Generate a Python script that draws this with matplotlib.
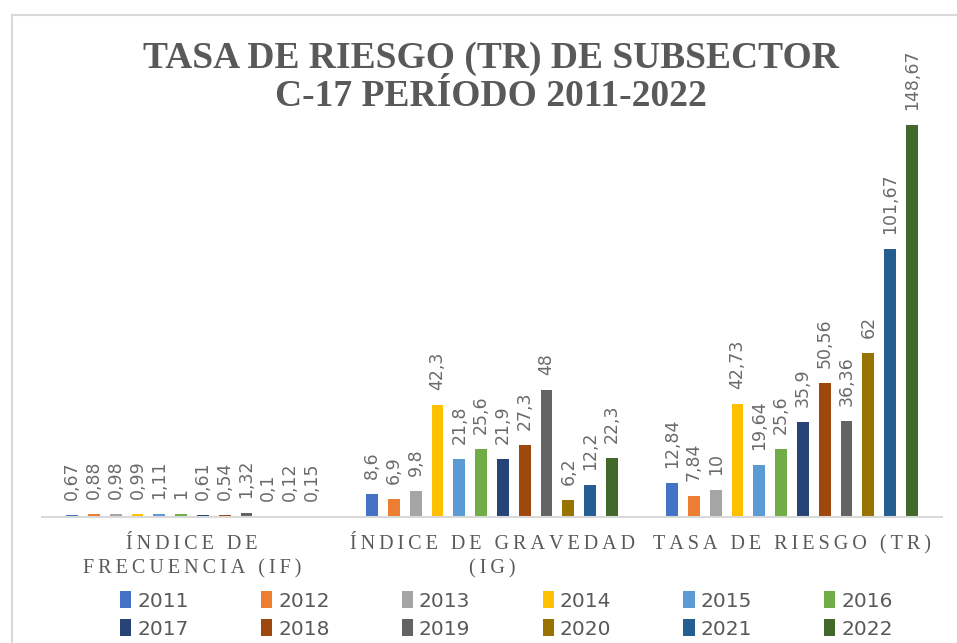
import matplotlib
matplotlib.use("Agg")
import matplotlib.pyplot as plt
from matplotlib import font_manager
from matplotlib.patches import Rectangle
import numpy as np

categories = ["ÍNDICE DE\nFRECUENCIA (IF)", "ÍNDICE DE GRAVEDAD\n(IG)", "TASA DE RIESGO (TR)"]
years = ["2011", "2012", "2013", "2014", "2015", "2016",
         "2017", "2018", "2019", "2020", "2021", "2022"]
if_values = [0.67, 0.88, 0.98, 0.99, 1.11, 1, 0.61, 0.54, 1.32, 0.1, 0.12, 0.15]
ig_values = [8.6, 6.9, 9.8, 42.3, 21.8, 25.6, 21.9, 27.3, 48, 6.2, 12.2, 22.3]
tr_values = [12.84, 7.84, 10, 42.73, 19.64, 25.6, 35.9, 50.56, 36.36, 62, 101.67, 148.67]
colors = ["#4472C4", "#ED7D31", "#A5A5A5", "#FFC000", "#5B9BD5", "#70AD47",
          "#264478", "#9E480E", "#636363", "#997300", "#255E91", "#43682B"]
title_lines = ["TASA DE RIESGO (TR) DE SUBSECTOR", "C-17 PERÍODO 2011-2022"]

TXT = "#595959"
names = {f.name for f in font_manager.fontManager.ttflist}
if "Liberation Sans Narrow" in names:
    leg_font = dict(family="Liberation Sans Narrow", size=19)
else:
    leg_font = dict(family="DejaVu Sans", size=14.5)


def spaced(s):
    return "\n".join("\u2009".join(list(line)) for line in s.split("\n"))


W, H = 957, 643
fig = plt.figure(figsize=(W / 100, H / 100), dpi=100)
fig.patch.set_facecolor("white")

# chart border (cropped chart area)
fig.add_artist(Rectangle((12 / W, -0.1), 1.2, 1 - 15 / H + 0.1,
                         transform=fig.transFigure, fill=False,
                         edgecolor="#d9d9d9", lw=1.5))

ax = fig.add_axes([42 / W, 1 - 516.7 / H, 900 / W, 421.6 / H])
series = np.array([if_values, ig_values, tr_values]).T  # shape (12, 3)
x = np.arange(len(categories))
slot = 0.0727
bw = 0.039
n = len(years)
containers = []
for i in range(n):
    off = (i - (n - 1) / 2) * slot
    bc = ax.bar(x + off, series[i], width=bw, color=colors[i], label=years[i],
                zorder=2)
    containers.append(bc)
    for xi, v in zip(x + off, series[i]):
        lab = ("%g" % v).replace(".", ",")
        ax.annotate(lab, (xi, v), xytext=(0, 15), textcoords="offset pixels",
                    rotation=90, ha="center", va="bottom", color="#6a6a6a",
                    fontsize=12.5, family="DejaVu Sans")

ax.set_xlim(-0.5, 2.5)
ax.set_ylim(0, 160)
ax.set_yticks([])
for s in ["top", "right", "left"]:
    ax.spines[s].set_visible(False)
ax.spines["bottom"].set_color("#d9d9d9")
ax.spines["bottom"].set_linewidth(1.5)
ax.set_xticks(x)
ax.set_xticklabels([spaced(c) for c in categories],
                   family=["Liberation Serif", "DejaVu Serif"], fontsize=14.5,
                   color=TXT, linespacing=1.4)
ax.tick_params(axis="x", length=0, pad=13)
ax.patch.set_alpha(0)

fig.text(491 / W, 1 - 68 / H, title_lines[0], ha="center", va="baseline",
         family="Liberation Serif", fontweight="bold", fontsize=27, color=TXT)
fig.text(491 / W, 1 - 106 / H, title_lines[1], ha="center", va="baseline",
         family="Liberation Serif", fontweight="bold", fontsize=27, color=TXT)

# legend entries laid out row by row (matplotlib fills columns first)
ncol = 6
order = [r * ncol + c for c in range(ncol) for r in range(2)]
fig.legend(handles=[containers[k] for k in order], labels=[years[k] for k in order],
           ncol=ncol, mode="expand",
           bbox_to_anchor=(120 / W, 1 - 643 / H, (893 - 120) / W, 56 / H),
           loc="center", frameon=False, borderpad=0, borderaxespad=0,
           handlelength=0.55, handleheight=0.9, handletextpad=0.3,
           labelspacing=0.42, prop=leg_font, labelcolor=TXT)

fig.savefig("out.png", dpi=100)
